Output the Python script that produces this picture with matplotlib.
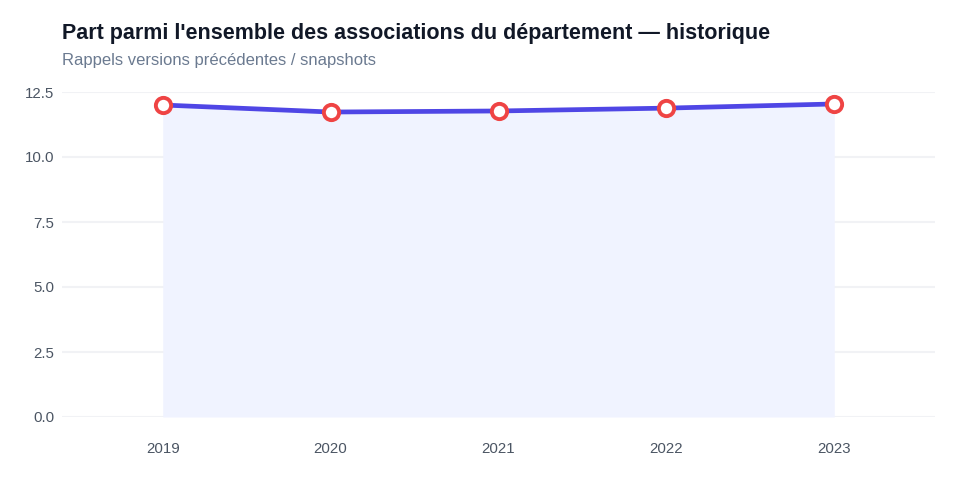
import matplotlib
matplotlib.use("Agg")
import matplotlib.pyplot as plt

years = ["2019", "2020", "2021", "2022", "2023"]
values = [12.0, 11.73, 11.77, 11.88, 12.04]
yticks = [0.0, 2.5, 5.0, 7.5, 10.0, 12.5]

title = "Part parmi l'ensemble des associations du département — historique"
subtitle = "Rappels versions précédentes / snapshots"

plt.rcParams["font.family"] = ["Liberation Sans", "DejaVu Sans"]

fig = plt.figure(figsize=(9.6, 4.8), dpi=100)
W, H = 960, 480
ax = fig.add_axes([62 / W, 63 / H, (935 - 62) / W, (417 - 92) / H])

x = list(range(len(years)))
ax.fill_between(x, values, 0, color="#f0f3ff", linewidth=0, zorder=1)
ax.plot(x, values, color="#4f46e5", linewidth=3.4, zorder=3, solid_capstyle="round")
ax.plot(x, values, linestyle="none", marker="o", markersize=11,
        markerfacecolor="white", markeredgecolor="#ef4444",
        markeredgewidth=2.8, zorder=4, clip_on=False)

ax.set_xlim(-0.6, 4.6)
ax.set_ylim(0, 12.5)
ax.set_xticks(x)
ax.set_xticklabels(years)
ax.set_yticks(yticks)
ax.set_yticklabels([f"{v:.1f}" for v in yticks])

for s in ax.spines.values():
    s.set_visible(False)
ax.grid(axis="y", color="#f1f2f5", linewidth=1.5, zorder=0)
ax.set_axisbelow(True)
ax.tick_params(axis="both", length=0, colors="#4b5563", labelsize=10.8)
ax.tick_params(axis="x", pad=18)
ax.tick_params(axis="y", pad=5.5)

fig.text(62 / W, 1 - 34 / H, title, fontsize=15.5, fontweight="bold",
         color="#111827", va="center", ha="left")
fig.text(62 / W, 1 - 61 / H, subtitle, fontsize=12, color="#6b7a90",
         va="center", ha="left")

fig.savefig("out.png", dpi=100, facecolor="white")
